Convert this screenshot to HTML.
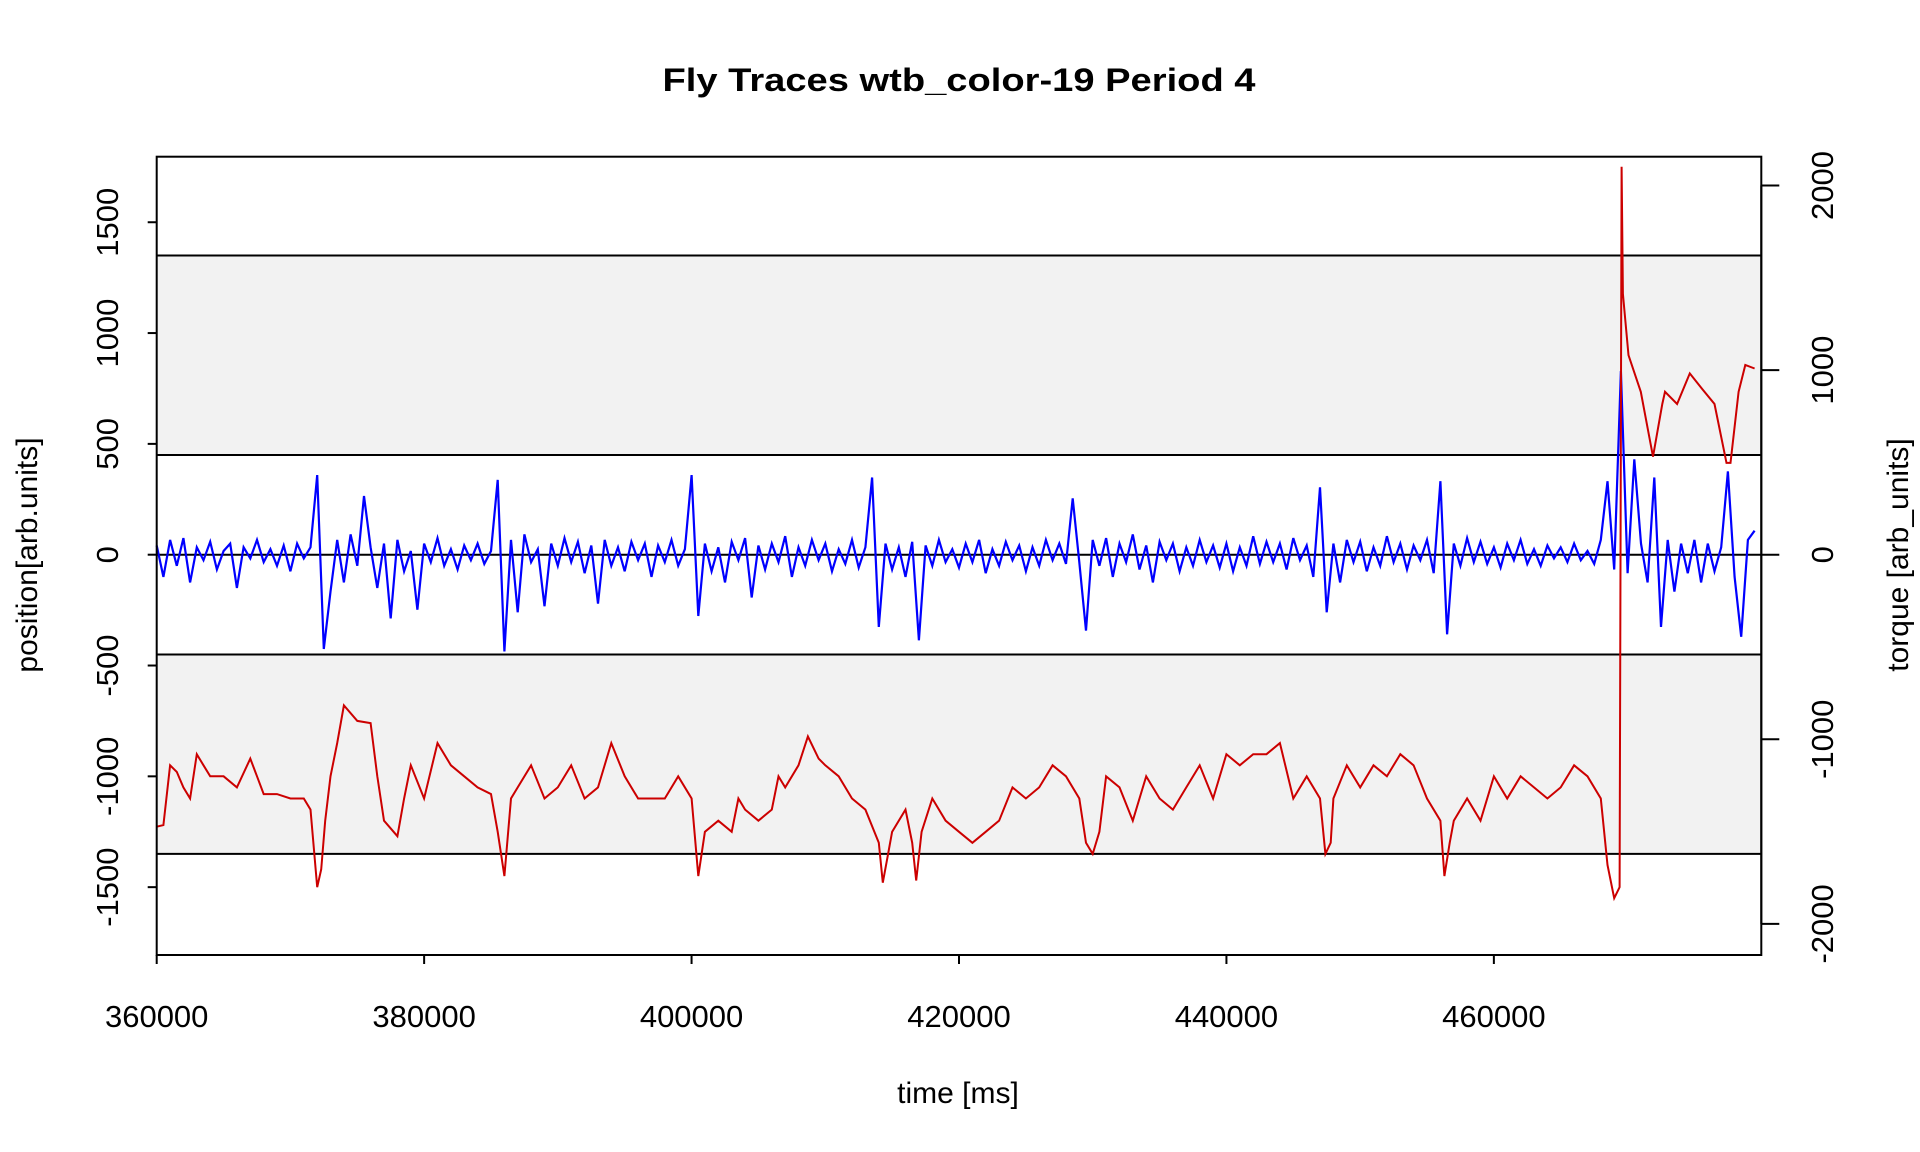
<!DOCTYPE html>
<html><head><meta charset="utf-8"><title>Fly Traces</title>
<style>html,body{margin:0;padding:0;background:#fff}svg{display:block}text{font-family:"Liberation Sans",Arial,sans-serif;fill:#000}</style>
</head><body>
<svg id="chart" width="1920" height="1152" viewBox="0 0 1920 1152" xmlns="http://www.w3.org/2000/svg">
<rect x="0" y="0" width="1920" height="1152" fill="#fff"/>
<g id="bands"></g>
<g id="series"></g>
<g id="axes"></g>
<text x="959" y="91" font-size="32" font-weight="bold" text-anchor="middle" textLength="593" lengthAdjust="spacingAndGlyphs">Fly Traces wtb_color-19 Period 4</text>
<text x="958" y="1103" font-size="30" text-anchor="middle">time [ms]</text>
<text transform="translate(37,555) rotate(-90)" font-size="30" text-anchor="middle">position[arb.units]</text>
<text transform="translate(1908,555) rotate(-90)" font-size="30" text-anchor="middle">torque [arb_units]</text>
</svg>
<script>
// ---- data ----
const xTicks = [360000, 380000, 400000, 420000, 440000, 460000];
const leftTicks = [-1500, -1000, -500, 0, 500, 1000, 1500];
const rightTicks = [-2000, -1000, 0, 1000, 2000];
const bandEdges = [-1350, -450, 450, 1350];
// position (red) trace: times in seconds (offset 360 s = 360000 ms), values
const posTimes = [360,360.5,361,361.5,362,362.5,363,363.5,364,365,366,367,367.5,368,369,370,371,371.5,372,372.3,372.6,373,373.5,374,375,376,376.5,377,378,378.5,379,380,381,382,383,384,385,385.5,386,386.5,387,388,389,390,391,392,393,394,395,396,397,398,399,400,400.5,401,402,403,403.5,404,405,406,406.5,407,408,408.7,409.5,410,411,412,413,414,414.3,414.7,415,416,416.5,416.8,417.2,418,419,420,421,422,423,424,425,426,427,428,429,429.5,430,430.5,431,432,433,434,435,436,437,438,439,440,441,442,443,444,445,446,447,447.4,447.8,448,449,450,451,452,453,454,455,456,456.3,456.7,457,458,459,460,461,462,463,464,465,466,467,468,468.5,469,469.4,469.55,469.65,470.07,470.99,471.9,472.6,472.8,473.7,474.65,475.6,476.5,477.4,477.7,478.3,478.8,479.5,480];
const posValues = [-1227,-1220,-950,-980,-1050,-1100,-900,-950,-1000,-1000,-1050,-920,-1000,-1080,-1080,-1100,-1100,-1150,-1500,-1420,-1200,-1000,-850,-680,-750,-760,-1000,-1200,-1270,-1100,-950,-1100,-850,-950,-1000,-1050,-1080,-1250,-1450,-1100,-1050,-950,-1100,-1050,-950,-1100,-1050,-850,-1000,-1100,-1100,-1100,-1000,-1100,-1450,-1250,-1200,-1250,-1100,-1150,-1200,-1150,-1000,-1050,-950,-820,-920,-950,-1000,-1100,-1150,-1300,-1480,-1350,-1250,-1150,-1300,-1470,-1250,-1100,-1200,-1250,-1300,-1250,-1200,-1050,-1100,-1050,-950,-1000,-1100,-1300,-1350,-1250,-1000,-1050,-1200,-1000,-1100,-1150,-1050,-950,-1100,-900,-950,-900,-900,-850,-1100,-1000,-1100,-1350,-1300,-1100,-950,-1050,-950,-1000,-900,-950,-1100,-1200,-1450,-1300,-1200,-1100,-1200,-1000,-1100,-1000,-1050,-1100,-1050,-950,-1000,-1100,-1400,-1550,-1500,1750,1177,900,735,442,680,735,680,818,746,680,414,414,735,856,840];
// torque (blue) trace: one value every 500 ms from 360000
const torqueStart = 360000;
const torqueStep = 500;
const torqueValues = [
50,-120,80,-60,90,-150,40,-30,70,-80,20,60,-180,40,-20,80,-40,30,-60,50,
-90,60,-20,40,431,-511,-200,80,-150,110,-60,318,40,-180,60,-345,80,-90,20,-298,
60,-40,90,-60,30,-80,50,-30,60,-50,20,405,-524,80,-312,110,-40,30,-279,60,
-60,90,-40,70,-100,50,-265,80,-60,40,-90,70,-30,60,-120,50,-40,80,-60,30,
431,-332,60,-90,40,-150,70,-30,90,-232,50,-80,60,-40,100,-120,40,-60,80,-30,
60,-90,30,-50,80,-70,40,418,-391,60,-80,40,-120,70,-464,50,-60,80,-40,30,
-70,60,-40,80,-100,30,-60,70,-30,50,-90,40,-60,80,-30,60,-50,305,-40,-411,
80,-60,90,-120,60,-40,110,-80,50,-150,70,-30,60,-90,40,-60,80,-40,50,-70,
60,-90,40,-60,100,-50,70,-40,60,-80,90,-30,50,-120,365,-312,60,-150,80,-40,
70,-90,40,-60,100,-40,60,-80,50,-30,80,-100,398,-431,60,-60,90,-40,70,-50,
40,-70,60,-30,80,-50,30,-60,50,-20,40,-40,60,-30,20,-50,80,398,-80,995,
-100,517,60,-150,418,-391,80,-200,60,-100,80,-150,60,-90,40,451,-120,-445,80,130];

// ---- scales ----
const L=156.7, R=1761.3, T=156.7, B=955;
const xMin=360000, xMax=480000;
function xs(t){return L+(t-xMin)*(R-L)/(xMax-xMin);}
function yl(v){return 554.7-v*0.22164;}
function yr(v){return 554.7-v*0.18459;}
const NS="http://www.w3.org/2000/svg";
function mk(tag,attrs,parent){const e=document.createElementNS(NS,tag);for(const k in attrs)e.setAttribute(k,attrs[k]);parent.appendChild(e);return e;}
const bands=document.getElementById('bands'), series=document.getElementById('series'), axes=document.getElementById('axes');

// bands
const bu=mk('rect',{x:L,y:yl(bandEdges[3]),width:R-L,height:yl(bandEdges[2])-yl(bandEdges[3]),fill:'#f2f2f2'},bands);


const bl=mk('rect',{x:L,y:yl(bandEdges[1]),width:R-L,height:yl(bandEdges[0])-yl(bandEdges[1]),fill:'#f2f2f2'},bands);


bandEdges.concat([0]).forEach(v=>{
  const ln=mk('line',{x1:L,x2:R,y1:yl(v),y2:yl(v),stroke:'#000','stroke-width':2},bands);
  
  
});

// torque (blue)
let d='';
torqueValues.forEach((v,i)=>{d+=(i?'L':'M')+xs(torqueStart+i*torqueStep).toFixed(1)+','+yr(v).toFixed(1);});
const tp=mk('path',{d:d,fill:'none',stroke:'#0000ff','stroke-width':2.2},series);



// position (red)
d='';
posTimes.forEach((t,i)=>{d+=(i?'L':'M')+xs(xMin+(t-360)*1000).toFixed(1)+','+yl(posValues[i]).toFixed(1);});
const pp=mk('path',{d:d,fill:'none',stroke:'#cc0000','stroke-width':2},series);



// box
const box=mk('rect',{x:L,y:T,width:R-L,height:B-T,fill:'none',stroke:'#000','stroke-width':2},axes);



// x ticks
xTicks.forEach(t=>{
  const x=xs(t);
  const tk=mk('line',{x1:x,x2:x,y1:B,y2:B+9,stroke:'#000','stroke-width':2},axes);
  
  
  const lb=mk('text',{x:x,y:1027,'font-size':31,'text-anchor':'middle'},axes);
  lb.textContent=String(t);
  
  
});
// left ticks
leftTicks.forEach(v=>{
  const y=yl(v);
  const tk=mk('line',{x1:L-9,x2:L,y1:y,y2:y,stroke:'#000','stroke-width':2},axes);
  
  
  const lb=mk('text',{transform:'translate(118,'+y+') rotate(-90)','font-size':31,'text-anchor':'middle'},axes);
  lb.textContent=String(v);
  
  
});
// right ticks
rightTicks.forEach(v=>{
  const y=yr(v);
  const tk=mk('line',{x1:R,x2:R+18,y1:y,y2:y,stroke:'#000','stroke-width':2},axes);
  
  
  const lb=mk('text',{transform:'translate(1833,'+y+') rotate(-90)','font-size':31,'text-anchor':'middle'},axes);
  lb.textContent=String(v);
  
  
});
const ra=mk('line',{x1:R,x2:R,y1:yr(2000),y2:yr(-2000),stroke:'#000','stroke-width':2},axes);


</script>
</body></html>
